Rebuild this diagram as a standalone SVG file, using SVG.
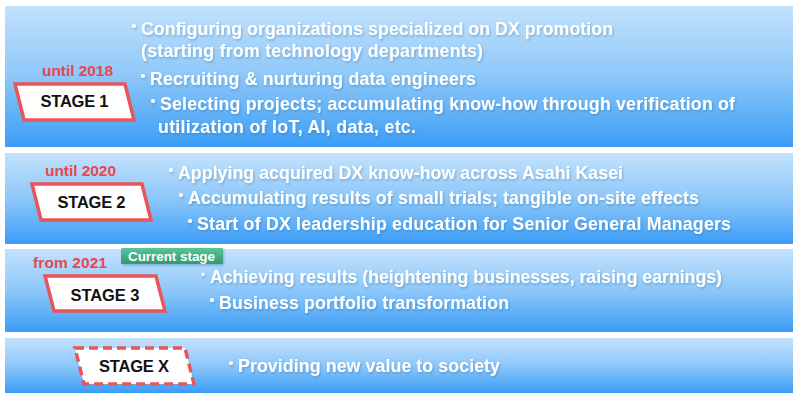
<svg xmlns="http://www.w3.org/2000/svg" width="800" height="400" viewBox="0 0 800 400">
<defs>
<linearGradient id="band" x1="0" y1="0" x2="0" y2="1">
<stop offset="0" stop-color="#C3E2FC"/>
<stop offset="0.5" stop-color="#8DC7F9"/>
<stop offset="1" stop-color="#3B9DF6"/>
</linearGradient>
<linearGradient id="green" x1="0" y1="0" x2="0" y2="1">
<stop offset="0" stop-color="#5CC39B"/>
<stop offset="1" stop-color="#2F9A70"/>
</linearGradient>
<filter id="sh" x="-10%" y="-30%" width="120%" height="160%">
<feDropShadow dx="1" dy="1.5" stdDeviation="1" flood-color="#1B5E8C" flood-opacity="0.35"/>
</filter>
</defs>
<style>
.band{fill:url(#band);}
.t{font-family:"Liberation Sans",Arial,sans-serif;font-weight:bold;font-size:17.8px;fill:#FFFFFF;}
.b{font-family:"Noto Sans CJK JP","Noto Sans",sans-serif;font-size:16px;font-weight:bold;}
.bs{font-size:13px;}
.yr{font-family:"Liberation Sans",Arial,sans-serif;font-weight:bold;font-size:15.5px;fill:#E8474F;text-anchor:middle;}
.stage{fill:#FFFFFF;stroke:#E8555A;stroke-width:3.5;stroke-linejoin:miter;}
.dash{stroke-dasharray:9 5;}
.sl{font-family:"Liberation Sans",Arial,sans-serif;font-weight:bold;font-size:16.5px;fill:#111111;text-anchor:middle;}
.badge{font-family:"Liberation Sans",Arial,sans-serif;font-weight:bold;font-size:13.4px;fill:#FFFFFF;}
</style>

<g id="band1">
<rect class="band" x="5" y="6" width="788" height="141"/>
<text class="yr" x="77.5" y="76" textLength="71">until 2018</text>
<polygon class="stage" points="15,84 125,84 134,120 24,120"/>
<text class="sl" x="74.5" y="107" textLength="68">STAGE 1</text>
<g filter="url(#sh)">
<text class="t"><tspan class="b" x="126" y="32">・</tspan><tspan x="141" y="35" textLength="472">Configuring organizations specialized on DX promotion</tspan></text>
<text class="t" x="141" y="57" textLength="342">(starting from technology departments)</text>
<text class="t"><tspan class="b" x="135" y="82">・</tspan><tspan x="150" y="85" textLength="326">Recruiting &amp; nurturing data engineers</tspan></text>
<text class="t"><tspan class="b" x="145" y="107">・</tspan><tspan x="160" y="110" textLength="575">Selecting projects; accumulating know-how through verification of</tspan></text>
<text class="t" x="158" y="133" textLength="258">utilization of IoT, AI, data, etc.</text>
</g>
</g>

<g id="band2">
<rect class="band" x="5" y="153" width="788" height="91"/>
<text class="yr" x="80.5" y="176" textLength="71">until 2020</text>
<polygon class="stage" points="32,184 142,184 151,220 41,220"/>
<text class="sl" x="91.5" y="208" textLength="68">STAGE 2</text>
<g filter="url(#sh)">
<text class="t"><tspan class="b" x="163" y="176">・</tspan><tspan x="178" y="179" textLength="445">Applying acquired DX know-how across Asahi Kasei</tspan></text>
<text class="t"><tspan class="b" x="173" y="201">・</tspan><tspan x="188" y="204" textLength="511">Accumulating results of small trials; tangible on-site effects</tspan></text>
<text class="t"><tspan class="b" x="182" y="227">・</tspan><tspan x="197" y="230" textLength="534">Start of DX leadership education for Senior General Managers</tspan></text>
</g>
</g>

<g id="band3">
<rect class="band" x="5" y="249" width="788" height="83"/>
<text class="yr" x="70" y="268" textLength="74">from 2021</text>
<g id="current-stage">
<rect x="121" y="248" width="102" height="16" rx="1" fill="url(#green)" filter="url(#sh)"/>
<text class="badge" x="128" y="261" textLength="87">Current stage</text>
</g>
<polygon class="stage" points="45,276 156,276 165,311 54,311"/>
<text class="sl" x="105" y="301" textLength="69">STAGE 3</text>
<g filter="url(#sh)">
<text class="t"><tspan class="b bs" x="196.5" y="279">・</tspan><tspan x="210" y="283" textLength="512">Achieving results (heightening businesses, raising earnings)</tspan></text>
<text class="t"><tspan class="b" x="204" y="306">・</tspan><tspan x="219" y="309" textLength="290">Business portfolio transformation</tspan></text>
</g>
</g>

<g id="band4">
<rect class="band" x="5" y="338" width="788" height="55"/>
<polygon class="stage dash" points="75,348 185,348 194,384 84,384"/>
<text class="sl" x="134" y="372" textLength="70">STAGE X</text>
<g filter="url(#sh)">
<text class="t"><tspan class="b" x="223" y="369">・</tspan><tspan x="238" y="372" textLength="262">Providing new value to society</tspan></text>
</g>
</g>
</svg>
